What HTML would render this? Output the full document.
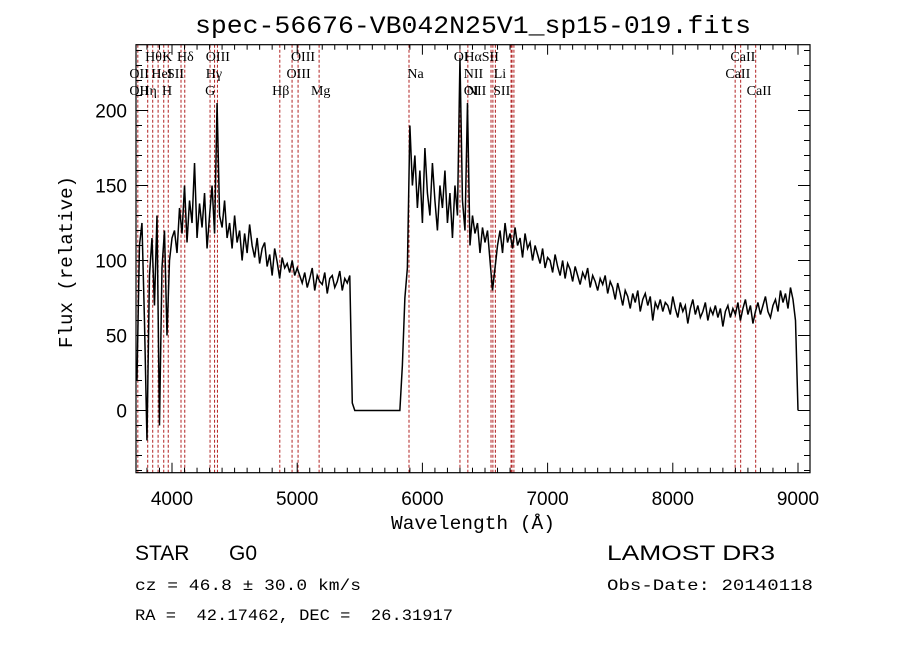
<!DOCTYPE html>
<html><head><meta charset="utf-8"><style>
html,body{margin:0;padding:0;background:#fff}
svg{display:block}
text{fill:#000;white-space:pre}
</style></head><body>
<svg id="chart" width="900" height="649" viewBox="0 0 900 649" xmlns="http://www.w3.org/2000/svg" xml:space="preserve">
<rect x="0" y="0" width="900" height="649" fill="#fff"/>
<text x="473" y="33" text-anchor="middle" font-family="Liberation Mono, monospace" font-size="25" textLength="556" lengthAdjust="spacingAndGlyphs">spec-56676-VB042N25V1_sp15-019.fits</text>
<g id="lines"></g>
<g id="labels" font-family="Liberation Serif, serif" font-size="14"></g>
<path id="spec" fill="none" stroke="#000" stroke-width="1.5" stroke-linejoin="miter"/>
<rect x="136" y="44.7" width="674" height="428" fill="none" stroke="#000" stroke-width="1.2"/>
<g id="ticks" stroke="#000" stroke-width="1"></g>
<g id="ticklabels" font-family="Liberation Sans, sans-serif" font-size="19"></g>
<text x="473" y="529" text-anchor="middle" font-family="Liberation Mono, monospace" font-size="19" textLength="164" lengthAdjust="spacingAndGlyphs">Wavelength (Å)</text>
<text transform="translate(72,262) rotate(-90)" text-anchor="middle" font-family="Liberation Mono, monospace" font-size="19" textLength="172" lengthAdjust="spacingAndGlyphs">Flux (relative)</text>
<text x="135" y="560" font-family="Liberation Sans, sans-serif" font-size="21">STAR</text>
<text x="229" y="560" font-family="Liberation Sans, sans-serif" font-size="21">G0</text>
<text x="135" y="590" font-family="Liberation Mono, monospace" font-size="16" textLength="226" lengthAdjust="spacingAndGlyphs">cz = 46.8 ± 30.0 km/s</text>
<text x="135" y="620" font-family="Liberation Mono, monospace" font-size="16" textLength="318" lengthAdjust="spacingAndGlyphs">RA =  42.17462, DEC =  26.31917</text>
<text x="607" y="560" font-family="Liberation Sans, sans-serif" font-size="21" textLength="168" lengthAdjust="spacingAndGlyphs">LAMOST DR3</text>
<text x="607" y="590" font-family="Liberation Mono, monospace" font-size="16" textLength="206" lengthAdjust="spacingAndGlyphs">Obs-Date: 20140118</text>
</svg>
<script>
const lambdaStart = 3720;
const lambdaStep = 20;
const flux = [
20,110,125,60,-20,90,115,70,130,-10,95,120,50,100,115,
120,105,135,118,150,112,140,125,165,115,138,122,145,108,130,150,118,205,130,122,
140,115,125,108,130,112,120,100,118,105,124,110,102,115,98,108,112,96,104,90,108,99,88,102,95,98,92,100,90,95,
90,85,92,82,88,95,80,90,86,84,92,78,88,90,82,86,93,80,88,85,90,5,
0,0,0,0,0,0,0,0,0,0,0,0,0,0,0,0,0,0,0,
30,75,95,190,
150,170,135,160,125,175,145,130,165,140,120,150,135,160,125,145,115,150,130,235,
140,120,205,110,130,118,125,105,122,112,120,100,80,
95,110,120,105,125,112,118,108,122,110,115,102,118,108,112,100,110,104,98,108,95,102,
100,92,104,96,90,100,88,98,94,86,96,90,84,92,88,95,82,90,86,80,88,84,90,78,86,
82,74,85,78,70,80,76,68,78,72,80,66,74,78,70,76,60,72,68,74,66,72,70,64,76,68,62,72,66,70,58,68,74,64,70,62,66,72,60,68,64,70,62,68,56,66,70,62,68,64,
72,60,68,74,64,70,58,66,72,64,70,76,66,62,70,
74,66,80,72,78,68,82,74,60,
0];
const lineWaves = [3727,3806,3846,3889,3934,3970,4072,4102,4304,4340,4363,4861,4959,5007,5175,5893,6300,6363,6548,6563,6583,6708,6716,6731,8498,8542,8662];
const labelTexts = ["Hθ","K","Hδ","OIII","OIII","OII","HeI","SII","Hγ","OIII","OII","Hη","H","G","Hβ","Mg","OI","HαSII","CaII","Na","NII","Li","CaII","OI","NII","SII","CaII"];
const labelWaves = [3785,3922,4040,4270,4950,3660,3835,3960,4270,4915,3660,3740,3920,4265,4800,5110,6250,6335,8460,5880,6330,6570,8420,6330,6355,6565,8590];
const labelRows = [0,0,0,0,0,1,1,1,1,1,2,2,2,2,2,2,0,0,0,1,1,1,1,2,2,2,2];
const xTicks = [4000,5000,6000,7000,8000,9000];
const yTicks = [0,50,100,150,200];

const NS="http://www.w3.org/2000/svg";
const X0=136,X1=810,Y0=44.7,Y1=472.7;
function xs(l){return 172+(l-4000)*0.1252;}
function ys(v){return 410.5-v*1.5;}
function mk(tag,attrs,parent){const e=document.createElementNS(NS,tag);for(const k in attrs)e.setAttribute(k,attrs[k]);parent.appendChild(e);return e;}

let d="";
flux.forEach((v,i)=>{const x=xs(lambdaStart+i*lambdaStep);d+=(i?"L":"M")+x.toFixed(2)+","+ys(v).toFixed(2);});
document.getElementById("spec").setAttribute("d",d);

const lg=document.getElementById("lines");
lineWaves.forEach(w=>{
  const el=mk("line",{x1:xs(w),x2:xs(w),y1:Y0,y2:Y1,stroke:"#b22222","stroke-width":1,"stroke-dasharray":"3,2"},lg);
  
  
});
const lab=document.getElementById("labels");
const rowY=[61,78,95];
labelTexts.forEach((t,i)=>{
  const el=mk("text",{x:xs(labelWaves[i]),y:rowY[labelRows[i]]},lab);
  el.textContent=t;
  
  
});

const tg=document.getElementById("ticks");
const tl=document.getElementById("ticklabels");
for(let l=3800;l<=9100;l+=100){
  const x=xs(l);if(x<X0||x>X1)continue;
  const major=l%1000===0;const len=major?10:5;
  mk("line",{x1:x,x2:x,y1:Y1,y2:Y1-len},tg);
  mk("line",{x1:x,x2:x,y1:Y0,y2:Y0+len},tg);
}
xTicks.forEach(l=>{
  const el=mk("text",{x:xs(l),y:505,"text-anchor":"middle"},tl);
  el.textContent=l;
  
  
});
for(let v=-40;v<=240;v+=10){
  const y=ys(v);if(y<Y0||y>Y1)continue;
  const major=v%50===0;const len=major?12:6;
  mk("line",{x1:X0,x2:X0+len,y1:y,y2:y},tg);
  mk("line",{x1:X1,x2:X1-len,y1:y,y2:y},tg);
}
yTicks.forEach(v=>{
  const el=mk("text",{x:127,y:ys(v)+7,"text-anchor":"end"},tl);
  el.textContent=v;
  
  
});
</script>
</body></html>
